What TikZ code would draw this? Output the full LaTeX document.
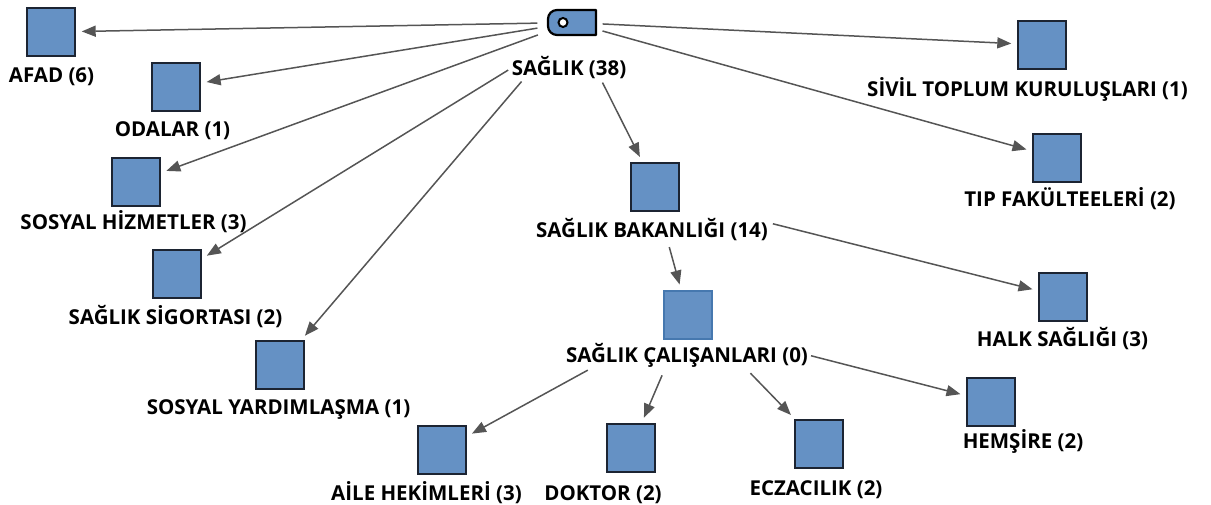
\documentclass[tikz,border=0pt]{standalone}
\usepackage{fontspec}
\setmainfont{Open Sans}
\usetikzlibrary{arrows.meta}
\definecolor{boxfill}{RGB}{101,145,196}
\definecolor{boxline}{RGB}{28,36,50}
\definecolor{boxlinesoft}{RGB}{70,120,175}
\definecolor{arrowgray}{RGB}{85,85,85}
\tikzset{
  sq/.style={draw=boxline, fill=boxfill, line width=1.4pt, minimum size=48pt, inner sep=0pt},
  lbl/.style={font=\bfseries\fontsize{20.5}{20.5}\selectfont, inner sep=0pt, text height=14.5pt, text depth=0pt},
  arr/.style={draw=arrowgray, line width=1.5pt, -{Triangle[length=14pt,width=11pt]}, shorten >=6pt},
}
\begin{document}
\begin{tikzpicture}[x=1pt, y=-1pt]
\useasboundingbox (0,0) rectangle (1211,505);

% root tag icon
\node[minimum width=49pt, minimum height=25pt, inner sep=0pt] (src) at (572,22.5) {};
\draw[line width=2.2pt, fill=boxfill, line join=round]
  (596,10) -- (596,35) -- (557,35) arc[start angle=270, end angle=180, radius=9pt]
  -- (548,19) arc[start angle=180, end angle=90, radius=9pt] -- cycle;
\draw[line width=2pt, fill=white] (563,22.5) circle[radius=4.5pt];
\node[lbl] (srclbl) at (569,68) {SAĞLIK (38)};

% child boxes
\node[sq] (afad) at (51,32) {};
\node[sq] (oda)  at (176,87) {};
\node[sq] (sh)   at (136,182) {};
\node[sq] (sig)  at (177,274) {};
\node[sq] (yar)  at (280,365) {};
\node[sq] (bak)  at (655,187) {};
\node[sq, draw=boxlinesoft] (cal) at (688,315) {};
\node[sq] (aile) at (442,450) {};
\node[sq] (dok)  at (631,448) {};
\node[sq] (ecz)  at (819,444) {};
\node[sq] (hem)  at (991,402) {};
\node[sq] (halk) at (1063,297) {};
\node[sq] (siv)  at (1042,45) {};
\node[sq] (tip)  at (1057,158) {};

% labels
\node[lbl] at (51.5,75)   {AFAD (6)};
\node[lbl] at (172.5,129) {ODALAR (1)};
\node[lbl] at (133.5,222) {SOSYAL HİZMETLER (3)};
\node[lbl] at (175.5,317) {SAĞLIK SİGORTASI (2)};
\node[lbl] at (278.5,407) {SOSYAL YARDIMLAŞMA (1)};
\node[lbl] (baklbl) at (652,230) {SAĞLIK BAKANLIĞI (14)};
\node[lbl] (callbl) at (687,355) {SAĞLIK ÇALIŞANLARI (0)};
\node[lbl] at (426.5,493) {AİLE HEKİMLERİ (3)};
\node[lbl] at (603,493)   {DOKTOR (2)};
\node[lbl] at (816,488)   {ECZACILIK (2)};
\node[lbl] at (1023,441)  {HEMŞİRE (2)};
\node[lbl] at (1062.5,339) {HALK SAĞLIĞI (3)};
\node[lbl] at (1027.5,89) {SİVİL TOPLUM KURULUŞLARI (1)};
\node[lbl] at (1070,199)  {TIP FAKÜLTEELERİ (2)};

% connectors
\draw[arr, shorten <=10pt] (src) -- (afad);
\draw[arr, shorten <=10pt] (src) -- (oda);
\draw[arr, shorten <=10pt] (src) -- (sh);
\draw[arr, shorten <=4pt]  (srclbl.west) -- (sig);
\draw[arr, shorten <=8pt]  (srclbl.-170) -- (yar);
\draw[arr, shorten <=6pt]  (src) -- (siv);
\draw[arr, shorten <=6pt]  (src) -- (tip);
\draw[arr, shorten <=8pt]  (srclbl.-14) -- (bak);
\draw[arr, shorten <=10pt] (baklbl.-27) -- (cal);
\draw[arr, shorten <=5pt]  (baklbl.north east) -- (halk);
\draw[arr, shorten <=16pt] (callbl.-175) -- (aile);
\draw[arr, shorten <=14pt] (callbl.-159) -- (dok);
\draw[arr, shorten <=15pt] (callbl.-8) -- (ecz);
\draw[arr, shorten <=3pt]  (callbl.east) -- (hem);
\end{tikzpicture}
\end{document}
